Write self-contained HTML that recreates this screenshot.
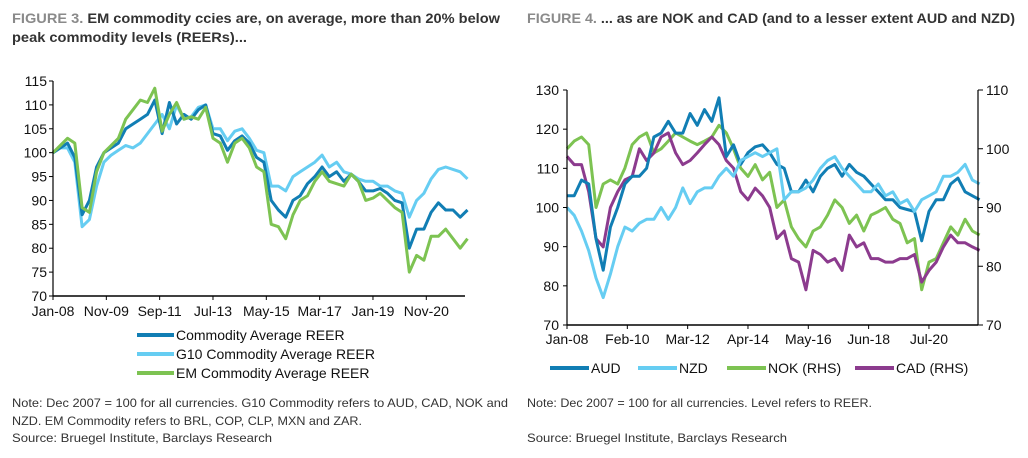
<!DOCTYPE html>
<html><head><meta charset="utf-8"><style>
body{margin:0;background:#fff;width:1028px;height:458px;overflow:hidden;font-family:"Liberation Sans",sans-serif}
svg{display:block}
</style></head><body>
<svg id="s" width="1028" height="458" xmlns="http://www.w3.org/2000/svg">
<g font-weight="bold" font-size="14">
<text x="12" y="23" textLength="488" lengthAdjust="spacingAndGlyphs"><tspan fill="#8a8a8a">FIGURE 3.</tspan><tspan fill="#333"> EM commodity ccies are, on average, more than 20% below</tspan></text>
<text x="12" y="42" fill="#333" textLength="235" lengthAdjust="spacingAndGlyphs">peak commodity levels (REERs)...</text>
</g>
<text x="527" y="23" font-weight="bold" font-size="14" textLength="488" lengthAdjust="spacingAndGlyphs"><tspan fill="#8a8a8a">FIGURE 4.</tspan><tspan fill="#333"> ... as are NOK and CAD (and to a lesser extent AUD and NZD)</tspan></text>
<g id="left"></g>
<g id="right"></g>
<g font-size="12" fill="#333">
<text x="12" y="407" textLength="496" lengthAdjust="spacingAndGlyphs">Note: Dec 2007 = 100 for all currencies. G10 Commodity refers to AUD, CAD, NOK and</text>
<text x="12" y="425" textLength="350" lengthAdjust="spacingAndGlyphs">NZD. EM Commodity refers to BRL, COP, CLP, MXN and ZAR.</text>
<text x="12" y="442" textLength="260" lengthAdjust="spacingAndGlyphs">Source: Bruegel Institute, Barclays Research</text>
<text x="527" y="407" textLength="345" lengthAdjust="spacingAndGlyphs">Note: Dec 2007 = 100 for all currencies. Level refers to REER.</text>
<text x="527" y="442" textLength="260" lengthAdjust="spacingAndGlyphs">Source: Bruegel Institute, Barclays Research</text>
</g>
</svg>
<script>
// months since Jan-08, quarterly sampling
const leftTicks=["Jan-08","Nov-09","Sep-11","Jul-13","May-15","Mar-17","Jan-19","Nov-20"];
const leftYTicks=[70,75,80,85,90,95,100,105,110,115];
const commodityAvg=[100,101,102,99,87,90,97,100,101,102,105,106,107,108,111,104,110.5,106,108,107,109,110,104,103.5,100.5,102.5,103.5,102,99,98,90,88,86.5,90,91,93.5,95,97,95,96,94,95.5,94,92,92,92.5,91.5,90,89.5,80,84,84,87.5,89.5,88,88,86.5,88];
const g10Avg=[100,101,101,98,84.5,86,93,98,99.5,100.5,101.5,101,102,104,106,108,105,110,107,107.5,109.5,110,105,105,102.5,104.5,105,103,100.5,100,93,93,92,95,96,97,98,99.5,97,98,96,95.5,94.5,94,94,93,93,92,91.5,86.5,90,91.5,94.5,96.5,97,96.5,96,94.5];
const emAvg=[100,101.5,103,102,88.5,87.5,96,100,101.5,103,107,109,111,110.5,113.5,104.5,108,110.5,107,107.5,107,109.5,103,102,98,102,103,101,97,96,85,84.5,82,87,90,91,94,96,94,93.5,93,95.5,94,90,90.5,91.5,90,88.5,87.5,75,78.5,77.5,82.5,82.5,84,82,80,82];
const rightTicks=["Jan-08","Feb-10","Mar-12","Apr-14","May-16","Jun-18","Jul-20"];
const rightYTicksL=[70,80,90,100,110,120,130];
const rightYTicksR=[70,80,90,100,110];
const aud=[103,103,107,106,92,84,95,100,106,108,108,110,118,119,122,119,119,124,121,125,122,128,113,116,111,114,115.5,116,114,111,110,104,104,107,104,108,110,111,108,111,109,108,106,104,102,102,100,99.5,99,91.5,99,102,102,106,107.5,104,103,102];
const nzd=[100,98,94,89,82,77,83,90,95,94,96,97,97,100,97,100,105,101,104,105,105,108,110,108,112,113,114,113,114,115,102,104,104,105,107,110,112,113,110,108,106,104,104,106,103,104,101,102,99,102,103,104,108,108,109,111,107,106];
const nok=[100,101.3,102,100.7,90,94,94.7,94,96.7,100.7,102,102.7,99.3,100,101.3,102.7,102,101.3,100.7,101.3,102,104,102.7,100,96.7,95.3,97.3,94.7,96,90,91.3,86.7,84.7,83.3,86,86.7,88.7,91.3,90,87.3,88.7,86,88.7,89.3,90,88,87.3,84,84.7,76,80.7,81.3,84,86.7,85.3,88,86,85.3];
const cad=[98.7,97.3,97.3,92.7,84.7,83.3,90,92.7,94.7,95.3,100,98,99.3,102,102.7,99.3,97.3,98,99.3,100.7,102,100.7,98,96.7,92.7,91.3,93.3,92,90,84.7,86,81.3,80.7,76,82.7,82,80.7,81.3,79.3,85.3,83.3,84,81.3,81.3,80.7,80.7,81.3,81.3,82,77.3,79.3,80.7,83.3,85.3,84,84,83.3,82.7];
const STEP=3;
const NS="http://www.w3.org/2000/svg";
function mk(tag,attrs,parent,text){const e=document.createElementNS(NS,tag);for(const k in attrs)e.setAttribute(k,attrs[k]);if(text!=null)e.textContent=text;parent.appendChild(e);return e;}
function drawLine(g,vals,xf,yf,color,name){
  const d=vals.map((v,i)=>(i?"L":"M")+xf(i*STEP).toFixed(1)+","+yf(v).toFixed(1)).join("");
  const p=mk("path",{d:d,fill:"none",stroke:color,"stroke-width":3,"stroke-linejoin":"round"},g);
  
  
}
const C1="#117eb4",C2="#66cdf2",C3="#7dc352",C4="#8c3b8e";
// LEFT
(function(){
  const g=document.getElementById("left");
  const x0=53,x1=465,pxm=2.424,yT=81,yB=296;
  const xf=m=>x0+m*pxm, yf=v=>yB-(v-70)/45*(yB-yT);
  leftYTicks.forEach(v=>{const t=mk("text",{x:x0-6,y:yf(v)+5,"text-anchor":"end","font-size":14,fill:"#111"},g,String(v));
    
    mk("line",{x1:x0-4,x2:x0,y1:yf(v),y2:yf(v),stroke:"#000"},g);});
  leftTicks.forEach((s,i)=>{const x=xf(i*22);mk("line",{x1:x,x2:x,y1:yB,y2:yB+4,stroke:"#000"},g);
    const t=mk("text",{x:x,y:yB+20,"text-anchor":"middle","font-size":14,fill:"#111"},g,s);
    });
  drawLine(g,g10Avg,xf,yf,C2,"g10-commodity-line");
  drawLine(g,commodityAvg,xf,yf,C1,"commodity-average-line");
  drawLine(g,emAvg,xf,yf,C3,"em-commodity-line");
  mk("line",{x1:x0,x2:x0,y1:yT,y2:yB,stroke:"#000","stroke-width":1.2},g);
  mk("line",{x1:x0,x2:x1,y1:yB,y2:yB,stroke:"#000","stroke-width":1.5},g);
  const leg=[["Commodity Average REER",C1,335],["G10 Commodity Average REER",C2,354],["EM Commodity Average REER",C3,373]];
  leg.forEach(([s,c,y])=>{const lg=mk("g",{},g);
    mk("line",{x1:137,x2:174,y1:y,y2:y,stroke:c,"stroke-width":4},lg);
    mk("text",{x:176,y:y+5,"font-size":14,fill:"#111"},lg,s);});
})();
// RIGHT
(function(){
  const g=document.getElementById("right");
  const x0=567,x1=978,pxm=2.413,yT=90,yB=325;
  const xf=m=>x0+m*pxm, yL=v=>yB-(v-70)/60*(yB-yT), yR=v=>yB-(v-70)/40*(yB-yT);
  rightYTicksL.forEach(v=>{const t=mk("text",{x:x0-8,y:yL(v)+5,"text-anchor":"end","font-size":14,fill:"#111"},g,String(v));
    
    mk("line",{x1:x0-4,x2:x0,y1:yL(v),y2:yL(v),stroke:"#000"},g);});
  rightYTicksR.forEach(v=>{const t=mk("text",{x:x1+8,y:yR(v)+5,"font-size":14,fill:"#111"},g,String(v));
    
    mk("line",{x1:x1,x2:x1+5,y1:yR(v),y2:yR(v),stroke:"#000"},g);});
  rightTicks.forEach((s,i)=>{const x=xf(i*25);mk("line",{x1:x,x2:x,y1:yB,y2:yB+4,stroke:"#000"},g);
    const t=mk("text",{x:x,y:yB+19,"text-anchor":"middle","font-size":14,fill:"#111"},g,s);
    });
  drawLine(g,nok,xf,yR,C3,"nok-line");
  drawLine(g,cad,xf,yR,C4,"cad-line");
  drawLine(g,aud,xf,yL,C1,"aud-line");
  drawLine(g,nzd,xf,yL,C2,"nzd-line");
  mk("line",{x1:x0,x2:x0,y1:yT,y2:yB,stroke:"#000","stroke-width":1.2},g);
  mk("line",{x1:x1,x2:x1,y1:yT,y2:yB,stroke:"#000","stroke-width":1.2},g);
  mk("line",{x1:x0,x2:x1,y1:yB,y2:yB,stroke:"#000","stroke-width":1.5},g);
  const leg=[["AUD",C1,550],["NZD",C2,638],["NOK (RHS)",C3,727],["CAD (RHS)",C4,855]];
  leg.forEach(([s,c,x])=>{const lg=mk("g",{},g);
    mk("line",{x1:x,x2:x+39,y1:368,y2:368,stroke:c,"stroke-width":4},lg);
    mk("text",{x:x+41,y:373,"font-size":14,fill:"#111"},lg,s);});
})();
</script>
</body></html>
